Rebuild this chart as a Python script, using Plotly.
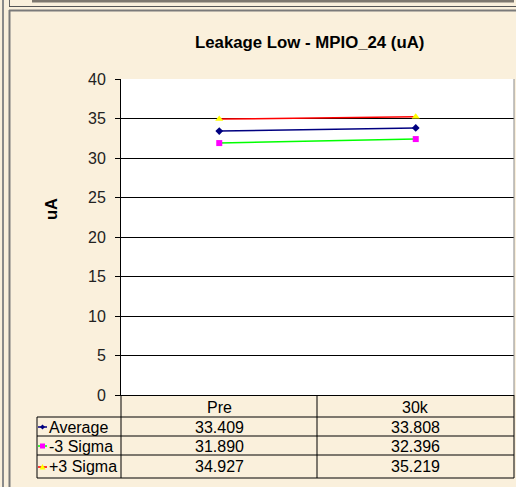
import plotly.graph_objects as go

# dados do grafico
categorias = ["Pre", "30k"]
series_nomes = ["Average", "-3 Sigma", "+3 Sigma"]
media = [33.409, 33.808]
menos_3sigma = [31.890, 32.396]
mais_3sigma = [34.927, 35.219]
y_ticks = [0, 5, 10, 15, 20, 25, 30, 35, 40]

W, H = 516, 487
L, R, T, B = 121, 514, 79, 395  # area do grafico em pixels

def px(x):
    return (x - L) / (R - L)

def py(y):
    return (B - y) / (B - T)

fundo = "#FAF0DC"
fonte = "Arial, Liberation Sans, sans-serif"

estilos = [
    dict(linha="#000080", marcador="#000080", simbolo="diamond", tam=6),
    dict(linha="#00FF00", marcador="#FF00FF", simbolo="square", tam=6),
    dict(linha="#FF0000", marcador="#FFFF00", simbolo="triangle-up", tam=7),
]
valores = [media, menos_3sigma, mais_3sigma]

fig = go.Figure()
for nome, vals, st in zip(series_nomes, valores, estilos):
    fig.add_trace(go.Scatter(
        x=categorias, y=vals, name=nome, mode="lines+markers",
        line=dict(color=st["linha"], width=1.5),
        marker=dict(symbol=st["simbolo"], size=st["tam"], color=st["marcador"]),
        cliponaxis=False,
    ))

shapes = []
annots = []

def linha(x0, y0, x1, y1, cor="#000000", w=1):
    shapes.append(dict(type="line", xref="paper", yref="paper",
                       x0=px(x0), y0=py(y0), x1=px(x1), y1=py(y1),
                       line=dict(color=cor, width=w)))

def texto(x, y, t, size=16, bold=False, anchor="center", ang=0):
    annots.append(dict(xref="paper", yref="paper", x=px(x), y=py(y),
                       text="<b>%s</b>" % t if bold else t, showarrow=False,
                       xanchor=anchor, yanchor="middle", textangle=ang,
                       font=dict(family=fonte, size=size, color="#000000")))

# moldura da pagina
shapes.append(dict(type="rect", xref="paper", yref="paper", x0=px(32), y0=py(0),
                   x1=px(514), y1=py(2.5), fillcolor="#7d776e", line=dict(width=0)))
linha(9, 6.5, 516, 6.5, "#555555", 1)
linha(9, 10.5, 516, 10.5, "#7a7a7a", 2)
linha(3, 0, 3, 487, "#8a8a8a", 2)
linha(9.5, 0, 9.5, 6, "#666666", 1)
linha(9.5, 10, 9.5, 487, "#7a7a7a", 2)

# borda direita da area do grafico
linha(R, T, R, B, "#8a8a8a", 1)

# tabela de dados
col_x = [37, L, 317, R]
row_y = [B, 417, 436, 455, 478]
linha(L, B, L, row_y[-1])
linha(317, B, 317, row_y[-1])
linha(R, B, R, row_y[-1])
linha(37, row_y[1], 37, row_y[-1])
linha(37, row_y[1], R, row_y[1])
for yy in row_y[2:]:
    linha(37, yy, R, yy)

centros = [(col_x[1] + col_x[2]) / 2, (col_x[2] + col_x[3]) / 2]
for c, cat in zip(centros, categorias):
    texto(c, (row_y[0] + row_y[1]) / 2 + 1, cat)

for i, (nome, vals, st) in enumerate(zip(series_nomes, valores, estilos)):
    ym = (row_y[i + 1] + row_y[i + 2]) / 2 + 0.5
    texto(47, ym, nome, anchor="left")
    for c, v in zip(centros, vals):
        texto(c, ym, "%.3f" % v)
    # chave da legenda
    linha(38, ym, 47, ym, st["linha"], 1.5)
    s = 2.5
    if st["simbolo"] == "diamond":
        path = "M %f,%f L %f,%f L %f,%f L %f,%f Z" % (
            px(42.5 - s), py(ym), px(42.5), py(ym - s), px(42.5 + s), py(ym), px(42.5), py(ym + s))
    elif st["simbolo"] == "square":
        path = "M %f,%f L %f,%f L %f,%f L %f,%f Z" % (
            px(40), py(ym - 2.5), px(45), py(ym - 2.5), px(45), py(ym + 2.5), px(40), py(ym + 2.5))
    else:
        path = "M %f,%f L %f,%f L %f,%f Z" % (
            px(39.5), py(ym + 2.5), px(45.5), py(ym + 2.5), px(42.5), py(ym - 3))
    shapes.append(dict(type="path", xref="paper", yref="paper", path=path,
                       fillcolor=st["marcador"], line=dict(width=0)))

# titulos
texto(309, 42, "Leakage Low - MPIO_24 (uA)", size=16.8, bold=True)
texto(51, 209, "uA", size=16.5, bold=True, ang=-90)

fig.update_layout(
    width=W, height=H,
    margin=dict(l=L, r=W - R, t=T, b=H - B, pad=0),
    paper_bgcolor=fundo, plot_bgcolor="#FFFFFF",
    showlegend=False,
    shapes=shapes, annotations=annots,
    font=dict(family=fonte, size=16, color="#000000"),
)
fig.update_xaxes(type="category", range=[-0.5, 1.5], showticklabels=False,
                 showgrid=False, showline=True, linecolor="#000000", linewidth=1,
                 ticks="", zeroline=False)
fig.update_yaxes(range=[0, 40], tickvals=y_ticks, showgrid=True,
                 gridcolor="#000000", gridwidth=1, showline=True,
                 linecolor="#000000", linewidth=1, ticks="outside", ticklen=5,
                 tickcolor="#000000", ticklabelstandoff=6, zeroline=False,
                 tickfont=dict(family=fonte, size=16, color="#222222"))

# tira a margem padrao da pagina para o grafico ocupar a janela toda
fig.write_html("out.html", config={"displayModeBar": False},
               post_script="document.body.style.margin='0';document.body.style.overflow='hidden';")
